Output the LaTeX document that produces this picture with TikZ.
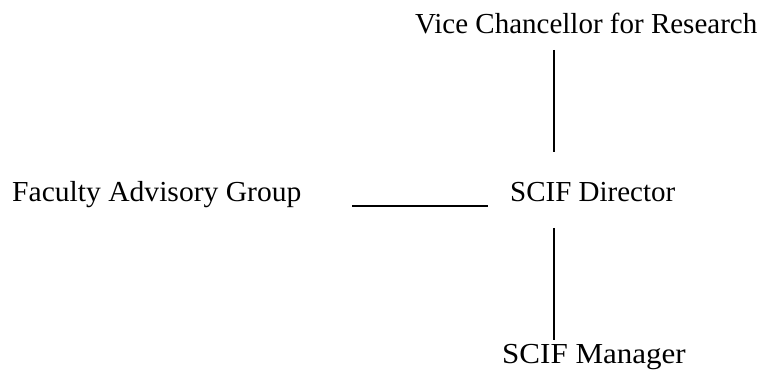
\documentclass[tikz,border=0pt]{standalone}
\usepackage{fontspec}
\setmainfont{Liberation Serif}
\begin{document}
\begin{tikzpicture}[x=1pt,y=1pt,
  lbl/.style={anchor=base west,inner sep=0pt,font=\fontsize{29}{33}\selectfont},
  conn/.style={line width=1.6pt}]
\useasboundingbox (0,0) rectangle (766,378);
\node[lbl] (vc) at (415,344.7) {Vice Chancellor for Research};
\node[lbl,xscale=1.02] (fag) at (12,176.3) {Faculty Advisory Group};
\node[lbl] (dir) at (510,176.3) {SCIF Director};
\node[lbl,xscale=1.07] (mgr) at (502,15) {SCIF Manager};
\coordinate (a1) at (554,328);
\coordinate (a2) at (554,226);
\coordinate (b1) at (352,172);
\coordinate (b2) at (488,172);
\coordinate (c1) at (554,150);
\coordinate (c2) at (554,38);
\draw[conn] (a1) -- (a2);
\draw[conn,line width=1.9pt] (b1) -- (b2);
\draw[conn] (c1) -- (c2);
\end{tikzpicture}
\end{document}
